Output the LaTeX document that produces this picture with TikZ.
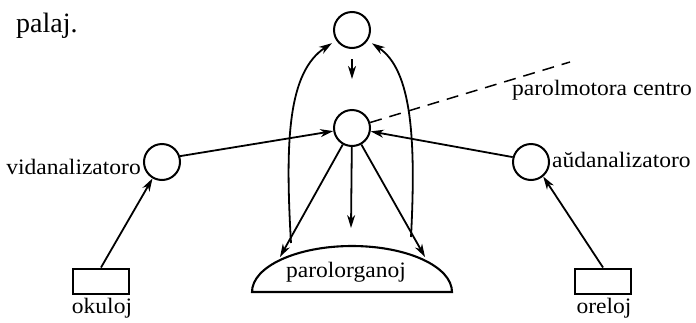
\documentclass[tikz,border=0pt]{standalone}
\usepackage{fontspec}
\setmainfont{Liberation Serif}
\usepackage{graphicx}
\usetikzlibrary{arrows.meta}
\newcommand{\wtext}[1]{\scalebox{1.12}[1.05]{#1}}
\begin{document}
\begin{tikzpicture}[x=1pt,y=-1pt,
  lbl/.style={inner sep=0pt, font=\fontsize{21}{25}\selectfont},
  circ/.style={circle, draw, line width=2pt, minimum size=36pt, inner sep=0pt},
  sense/.style={rectangle, draw, line width=2pt, minimum width=56pt, minimum height=25pt, inner sep=0pt},
  arr/.style={line width=1.8pt, -{Stealth[length=13pt,width=8pt,inset=4pt]}},
  dashline/.style={line width=1.5pt, dash pattern=on 12pt off 8pt},
  organ/.style={line width=2.1pt}
]
\useasboundingbox (0,0) rectangle (696,322);

% title
\node[anchor=base west, inner sep=0pt, font=\fontsize{28}{32}\selectfont] (title) at (16,32) {palaj.};

% circles
\node[circ] (top) at (352,30) {};
\node[circ] (mid) at (352,128) {};
\node[circ] (vid) at (162,162) {};
\node[circ] (aud) at (531,162) {};

% sense boxes
\node[sense] (okb) at (101,281) {};
\node[sense] (oreb) at (603,281) {};

% labels
\node[lbl, anchor=base east] (vidl) at (141,174) {\wtext{vidanalizatoro}};
\node[lbl, anchor=base west] (audl) at (552,167) {\wtext{aŭdanalizatoro}};
\node[lbl, anchor=base west] (pmc) at (512,95) {\wtext{parolmotora centro}};
\node[lbl, anchor=base] (okl) at (102,313) {\wtext{okuloj}};
\node[lbl, anchor=base] (orel) at (604,313) {\wtext{oreloj}};

% speech organs (dome)
\draw[organ] (252,292) .. controls (252,266.6) and (296.8,246) .. (352,246)
  .. controls (407.2,246) and (452,266.6) .. (452,292) -- cycle;
\node[lbl, anchor=base] (porg) at (346,277) {\wtext{parolorganoj}};

% free ends
\coordinate (dl) at (280,257);
\coordinate (dm) at (351,228);
\coordinate (dr) at (425,257);
\coordinate (cl) at (291,243);
\coordinate (cr) at (411,237);
\coordinate (dashend) at (570,62);

% connectors
\draw[arr, shorten <=10pt, shorten >=30pt] (top) -- (mid);
\draw[arr] (vid.18) -- (mid);
\draw[arr] (aud.165) -- (mid);
\draw[arr] (okb.north) -- (vid);
\draw[arr] (oreb.north) -- (aud.-50);
\draw[arr] (mid) -- (dl);
\draw[arr] (mid) -- (dm);
\draw[arr] (mid) -- (dr);
\draw[arr, shorten >=5pt] (cl) .. controls (285,140) and (288,72) .. (top);
\draw[arr, shorten >=5pt] (cr) .. controls (416,140) and (412,70) .. (top);
\draw[dashline] (mid) -- (dashend);
\end{tikzpicture}
\end{document}
